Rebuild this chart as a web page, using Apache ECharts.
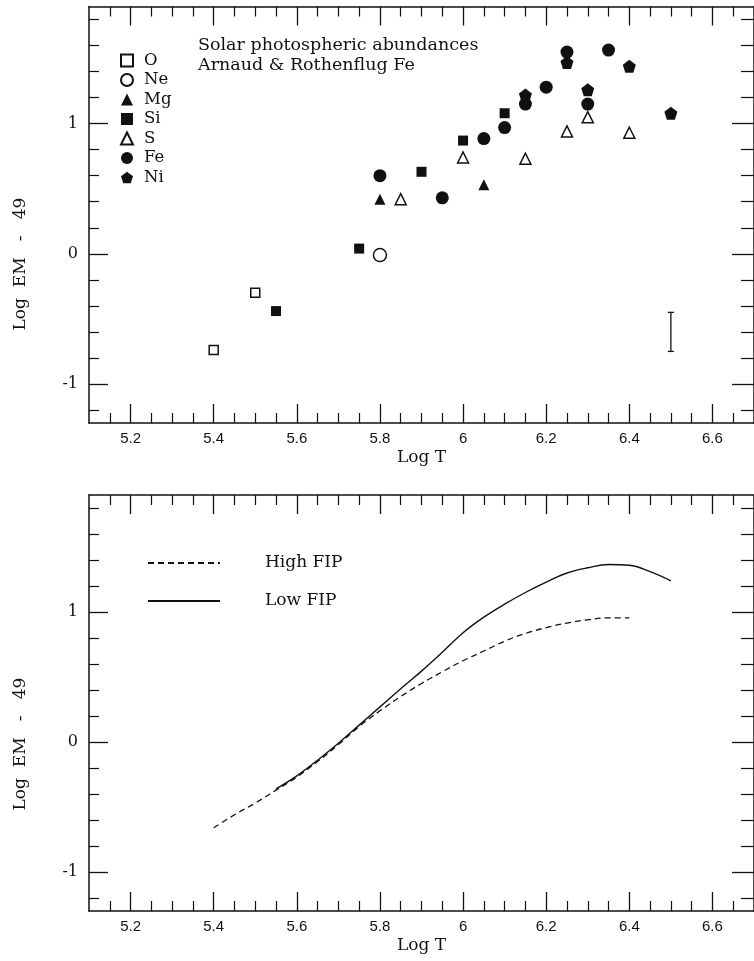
<!DOCTYPE html>
<html><head><meta charset="utf-8">
<script src="https://cdn.jsdelivr.net/npm/echarts@6/dist/echarts.min.js"></script>
<style>html,body{margin:0;padding:0;background:#fff}#c{width:754px;height:961px}</style>
</head><body><div id="c"></div>
<script>
// ---- axis ranges and tick values ----
const xRange = [5.1, 6.7];
const yRange = [-1.3, 1.9];
const xMajorTicks = [5.2, 5.4, 5.6, 5.8, 6, 6.2, 6.4, 6.6];
const xMinorTicks = [5.15, 5.25, 5.3, 5.35, 5.45, 5.5, 5.55, 5.65, 5.7, 5.75, 5.85, 5.9, 5.95, 6.05, 6.1, 6.15, 6.25, 6.3, 6.35, 6.45, 6.5, 6.55, 6.65];
const yMajorTicks = [-1, 0, 1];
const yMinorTicks = [-1.2, -0.8, -0.6, -0.4, -0.2, 0.2, 0.4, 0.6, 0.8, 1.2, 1.4, 1.6, 1.8];

// ---- top panel: element emission measures ----
const oX = [5.4, 5.5];                 const oY = [-0.74, -0.30];
const neX = [5.8];                     const neY = [-0.01];
const mgX = [5.8, 6.05];               const mgY = [0.42, 0.53];
const siX = [5.55, 5.75, 5.9, 6.0, 6.1]; const siY = [-0.44, 0.04, 0.63, 0.87, 1.08];
const sX = [5.85, 6.0, 6.15, 6.25, 6.3, 6.4]; const sY = [0.42, 0.74, 0.73, 0.94, 1.05, 0.93];
const feX = [5.8, 5.95, 6.05, 6.1, 6.15, 6.2, 6.25, 6.3, 6.35];
const feY = [0.60, 0.43, 0.885, 0.97, 1.15, 1.28, 1.55, 1.15, 1.565];
const niX = [6.15, 6.25, 6.3, 6.4, 6.5]; const niY = [1.22, 1.47, 1.26, 1.44, 1.08];
const errX = [6.5]; const errLow = [-0.75]; const errHigh = [-0.45];

// ---- bottom panel: curves ----
const highX = [5.40,5.45,5.50,5.55,5.60,5.65,5.70,5.75,5.80,5.85,5.90,5.95,6.00,6.05,6.10,6.15,6.20,6.25,6.30,6.35,6.40];
const highY = [-0.66,-0.56,-0.47,-0.37,-0.27,-0.15,-0.02,0.12,0.24,0.35,0.45,0.54,0.625,0.70,0.775,0.835,0.88,0.915,0.94,0.955,0.955];
const lowX = [5.55,5.60,5.65,5.70,5.75,5.80,5.85,5.90,5.95,6.00,6.05,6.10,6.15,6.20,6.25,6.30,6.35,6.40,6.45,6.50];
const lowY = [-0.36,-0.26,-0.14,-0.01,0.13,0.27,0.41,0.545,0.69,0.84,0.96,1.06,1.15,1.23,1.30,1.34,1.365,1.36,1.31,1.24];

const INK = '#111';
const SERIF = '"DejaVu Serif", "Liberation Serif", serif';
const SANS = '"Liberation Sans", Arial, sans-serif';
const pentagon = 'path://M50,0 L97.6,34.5 L79.4,90.5 L20.6,90.5 L2.4,34.5 Z';

const zip = (a, b) => a.map((v, i) => [v, b[i]]);

function xAxes(g) {
  const base = { gridIndex: g, type: 'value', min: xRange[0], max: xRange[1], splitLine: { show: false } };
  return [
    Object.assign({}, base, {
      position: 'bottom',
      axisLine: { show: true, onZero: false, lineStyle: { color: INK, width: 1.5 } },
      axisTick: { show: true, inside: true, length: 19, customValues: xMajorTicks, lineStyle: { color: INK, width: 1.3 } },
      axisLabel: { show: true, customValues: xMajorTicks, margin: 8, color: INK, fontFamily: SANS, fontSize: 15 },
      name: 'Log T', nameLocation: 'middle', nameGap: 26,
      nameTextStyle: { color: INK, fontFamily: SERIF, fontSize: 17 }
    }),
    Object.assign({}, base, {
      position: 'bottom',
      axisLine: { show: false, onZero: false },
      axisTick: { show: true, inside: true, length: 10, customValues: xMinorTicks, lineStyle: { color: INK, width: 1.2 } },
      axisLabel: { show: false }
    }),
    Object.assign({}, base, {
      position: 'top',
      axisLine: { show: true, onZero: false, lineStyle: { color: INK, width: 1.5 } },
      axisTick: { show: true, inside: true, length: 19, customValues: xMajorTicks, lineStyle: { color: INK, width: 1.3 } },
      axisLabel: { show: false }
    }),
    Object.assign({}, base, {
      position: 'top',
      axisLine: { show: false, onZero: false },
      axisTick: { show: true, inside: true, length: 10, customValues: xMinorTicks, lineStyle: { color: INK, width: 1.2 } },
      axisLabel: { show: false }
    })
  ];
}
function yAxes(g) {
  const base = { gridIndex: g, type: 'value', min: yRange[0], max: yRange[1], splitLine: { show: false } };
  return [
    Object.assign({}, base, {
      position: 'left',
      axisLine: { show: true, onZero: false, lineStyle: { color: INK, width: 1.5 } },
      axisTick: { show: true, inside: true, length: 19, customValues: yMajorTicks, lineStyle: { color: INK, width: 1.3 } },
      axisLabel: { show: true, customValues: yMajorTicks, margin: 11, color: INK, fontFamily: SERIF, fontSize: 16 }
    }),
    Object.assign({}, base, {
      position: 'left',
      axisLine: { show: false, onZero: false },
      axisTick: { show: true, inside: true, length: 10, customValues: yMinorTicks, lineStyle: { color: INK, width: 1.2 } },
      axisLabel: { show: false }
    }),
    Object.assign({}, base, {
      position: 'right',
      axisLine: { show: true, onZero: false, lineStyle: { color: INK, width: 1.5 } },
      axisTick: { show: true, inside: true, length: 22, customValues: yMajorTicks, lineStyle: { color: INK, width: 1.3 } },
      axisLabel: { show: false }
    }),
    Object.assign({}, base, {
      position: 'right',
      axisLine: { show: false, onZero: false },
      axisTick: { show: true, inside: true, length: 13, customValues: yMinorTicks, lineStyle: { color: INK, width: 1.2 } },
      axisLabel: { show: false }
    })
  ];
}

const openStyle = { color: '#fff', borderColor: INK, borderWidth: 1.5, opacity: 1 };
const fillStyle = { color: INK, opacity: 1 };
function scatter(name, xs, ys, symbol, size, style) {
  return { name, type: 'scatter', xAxisIndex: 0, yAxisIndex: 0, symbol, symbolSize: size,
    itemStyle: style, data: zip(xs, ys), emphasis: { disabled: true }, z: 3 };
}

const option = {
  backgroundColor: '#fff',
  animation: false,
  title: {
    text: 'Solar photospheric abundances\nArnaud & Rothenflug Fe',
    left: 193, top: 30,
    textStyle: { color: INK, fontFamily: SERIF, fontSize: 17.5, fontWeight: 'normal', lineHeight: 20 }
  },
  grid: [
    { left: 89, top: 6.5, width: 673, height: 416.5 },
    { left: 89, top: 495, width: 673, height: 416 }
  ],
  xAxis: xAxes(0).concat(xAxes(1)),
  yAxis: yAxes(0).concat(yAxes(1)),
  legend: [
    {
      data: ['O', 'Ne', 'Mg', 'Si', 'S', 'Fe', 'Ni'],
      orient: 'vertical', left: 115, top: 47,
      itemWidth: 12, itemHeight: 12, itemGap: 2.5,
      selectedMode: false,
      textStyle: { color: INK, fontFamily: SERIF, fontSize: 16.5, lineHeight: 17, padding: [0, 0, 0, 6] }
    },
    {
      data: ['High FIP', 'Low FIP'],
      orient: 'vertical', left: 142, top: 549,
      itemWidth: 72, itemHeight: 14, itemGap: 20,
      selectedMode: false,
      itemStyle: { opacity: 0 },
      textStyle: { color: INK, fontFamily: SERIF, fontSize: 17, lineHeight: 18, padding: [0, 0, 0, 40] }
    }
  ],
  graphic: [
    { type: 'text', x: 21, y: 264, rotation: Math.PI / 2,
      style: { text: 'Log  EM   -   49', font: '17px "DejaVu Serif", serif', fill: INK, textAlign: 'center', textVerticalAlign: 'middle' } },
    { type: 'text', x: 21, y: 744, rotation: Math.PI / 2,
      style: { text: 'Log  EM   -   49', font: '17px "DejaVu Serif", serif', fill: INK, textAlign: 'center', textVerticalAlign: 'middle' } }
  ],
  series: [
    scatter('O', oX, oY, 'rect', 9, openStyle),
    scatter('Ne', neX, neY, 'circle', 13, openStyle),
    scatter('Mg', mgX, mgY, 'triangle', 11, fillStyle),
    scatter('Si', siX, siY, 'rect', 10, fillStyle),
    scatter('S', sX, sY, 'triangle', 11, openStyle),
    scatter('Ni', niX, niY, pentagon, 13, fillStyle),
    scatter('Fe', feX, feY, 'circle', 13, fillStyle),
    {
      name: 'error', type: 'custom', xAxisIndex: 0, yAxisIndex: 0,
      data: errX.map((x, i) => [x, errLow[i], errHigh[i]]),
      renderItem: function (params, api) {
        const lo = api.coord([api.value(0), api.value(1)]);
        const hi = api.coord([api.value(0), api.value(2)]);
        const st = { stroke: INK, lineWidth: 1.3 };
        return { type: 'group', children: [
          { type: 'line', shape: { x1: lo[0], y1: lo[1], x2: hi[0], y2: hi[1] }, style: st },
          { type: 'line', shape: { x1: lo[0] - 3, y1: lo[1], x2: lo[0] + 3, y2: lo[1] }, style: st },
          { type: 'line', shape: { x1: hi[0] - 3, y1: hi[1], x2: hi[0] + 3, y2: hi[1] }, style: st }
        ] };
      }
    },
    {
      name: 'High FIP', type: 'line', xAxisIndex: 4, yAxisIndex: 4,
      data: zip(highX, highY), symbol: 'none', smooth: 0.4,
      lineStyle: { color: INK, width: 1.3, type: [6, 4] }, itemStyle: { color: INK }
    },
    {
      name: 'Low FIP', type: 'line', xAxisIndex: 4, yAxisIndex: 4,
      data: zip(lowX, lowY), symbol: 'none', smooth: 0.4,
      lineStyle: { color: INK, width: 1.4 }, itemStyle: { color: INK }
    }
  ]
};
echarts.init(document.getElementById('c'), null, { renderer: 'canvas' }).setOption(option);
</script>
</body></html>
